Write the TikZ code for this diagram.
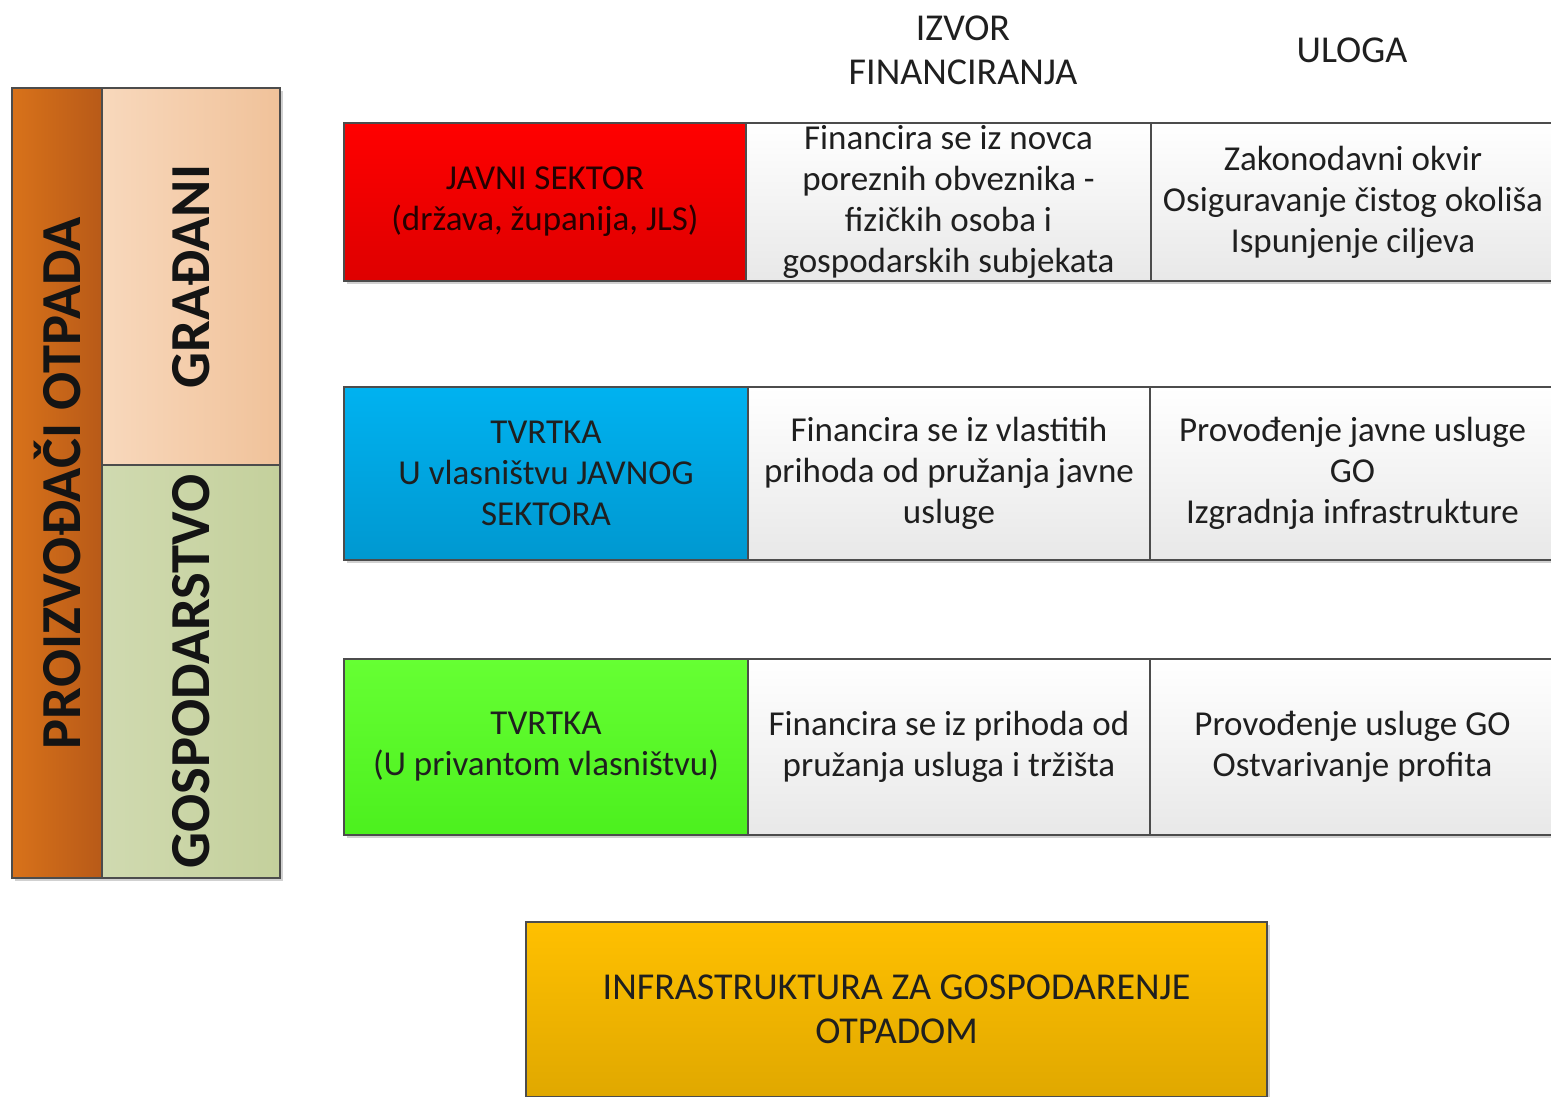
\documentclass[tikz,border=0pt]{standalone}
\usepackage{fontspec}
\setmainfont{Carlito}
\begin{document}
\begin{tikzpicture}[x=1pt,y=-1pt,
  every node/.style={font=\fontsize{35}{41}\selectfont, text=black!88, align=flush center, inner sep=0pt},
  cell/.style={draw=black!70, line width=1.8pt, minimum width=#1, text width=#1-4pt},
  shade/.style={preaction={fill=black!18, transform canvas={shift={(3pt,-3pt)}}}},
  graycell/.style={cell=#1, top color=white, bottom color=black!9, shade},
  hdr/.style={font=\fontsize{38}{44}\selectfont},
  vert/.style={rotate=90, font=\bfseries\fontsize{56.5}{60}\selectfont, text=black!92}
]
\clip (0,0) rectangle (1551,1096);
\useasboundingbox (0,0) rectangle (1551,1096);

% left column
\node[draw=black!70, line width=1.8pt, minimum width=90pt, minimum height=790pt,
      left color={rgb,255:red,216;green,114;blue,26}, right color={rgb,255:red,184;green,90;blue,24}, shade]
  (prod) at (57,483) {};
\node[vert] (prodt) at (prod.center) {PROIZVOĐAČI OTPADA};
\node[draw=black!70, line width=1.8pt, minimum width=178pt, minimum height=377pt,
      left color={rgb,255:red,248;green,216;blue,188}, right color={rgb,255:red,240;green,194;blue,154}, shade]
  (grad) at (191,276.5) {};
\node[vert] (gradt) at (grad.center) {GRAĐANI};
\node[draw=black!70, line width=1.8pt, minimum width=178pt, minimum height=413pt,
      left color={rgb,255:red,208;green,218;blue,176}, right color={rgb,255:red,196;green,208;blue,156}, shade]
  (gosp) at (191,671.5) {};
\node[vert] (gospt) at (gosp.center) {GOSPODARSTVO};

% headers
\node[hdr] (h1) at (963,50) {IZVOR\\FINANCIRANJA};
\node[hdr] (h2) at (1352,50) {ULOGA};

% row 1
\node[cell=402pt, minimum height=158pt, top color={rgb,255:red,255;green,0;blue,0}, bottom color={rgb,255:red,222;green,0;blue,0}, shade, text=black!85!red] (r1a) at (545,202) {JAVNI SEKTOR\\(država, županija, JLS)};
\node[graycell=405pt, minimum height=158pt] (r1b) at (948.5,202) {Financira se iz novca\\poreznih obveznika -\\fizičkih osoba i\\gospodarskih subjekata};
\node[graycell=404pt, minimum height=158pt] (r1c) at (1353,202) {Zakonodavni okvir\\Osiguravanje čistog okoliša\\Ispunjenje ciljeva};

% row 2
\node[cell=404pt, minimum height=173pt, top color={rgb,255:red,0;green,178;blue,240}, bottom color={rgb,255:red,0;green,152;blue,208}, shade] (r2a) at (546,473.5) {TVRTKA\\U vlasništvu JAVNOG\\SEKTORA};
\node[graycell=402pt, minimum height=173pt] (r2b) at (949,473.5) {Financira se iz vlastitih\\prihoda od pružanja javne\\usluge};
\node[graycell=405pt, minimum height=173pt] (r2c) at (1352.5,473.5) {Provođenje javne usluge\\GO\\Izgradnja infrastrukture};

% row 3
\node[cell=404pt, minimum height=176pt, top color={rgb,255:red,102;green,255;blue,51}, bottom color={rgb,255:red,76;green,240;blue,30}, shade] (r3a) at (546,747) {TVRTKA\\(U privantom vlasništvu)};
\node[graycell=402pt, minimum height=176pt] (r3b) at (949,747) {Financira se iz prihoda od\\pružanja usluga i tržišta};
\node[graycell=405pt, minimum height=176pt] (r3c) at (1352.5,747) {Provođenje usluge GO\\Ostvarivanje profita};

% bottom
\node[cell=741pt, minimum height=175pt, top color={rgb,255:red,255;green,192;blue,0}, bottom color={rgb,255:red,224;green,168;blue,0}, shade, font=\fontsize{38}{44}\selectfont] (infra) at (896.5,1009.5) {INFRASTRUKTURA ZA GOSPODARENJE\\OTPADOM};
\end{tikzpicture}
\end{document}
